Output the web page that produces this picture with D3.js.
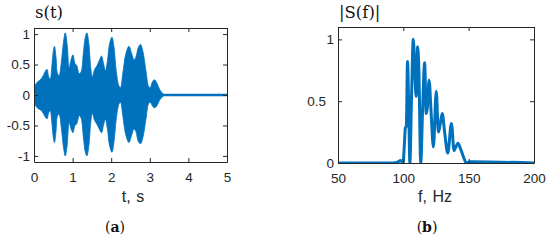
<!DOCTYPE html>
<html>
<head>
<meta charset="utf-8">
<script src="https://cdn.jsdelivr.net/npm/d3@7"></script>
<style>
  body { margin: 0; background: #fff; }
  .axis text { font-family: "Liberation Sans", Arial, sans-serif; font-size: 13.5px; fill: #262626; }
  .axis path, .axis line { stroke: #262626; }
  .lbl { font-family: "Liberation Sans", Arial, sans-serif; font-size: 16px; fill: #262626; word-spacing: 1px; }
  .serif { font-family: "DejaVu Serif", "Liberation Serif", serif; fill: #111; }
</style>
</head>
<body>
<div id="chart"></div>
<script>
const WIDTH  = 550;
const HEIGHT = 240;
const BLUE   = '#0072BD';

// (a) signal envelope
const sigTime  = [0.00, 0.03, 0.10, 0.18, 0.24, 0.30, 0.34, 0.38, 0.42, 0.46, 0.50, 0.53, 0.57, 0.61, 0.65, 0.71, 0.76, 0.81, 0.86, 0.91, 0.96, 1.01, 1.06, 1.11, 1.17, 1.22, 1.28, 1.33, 1.37, 1.42, 1.47, 1.51, 1.57, 1.63, 1.70, 1.75, 1.80, 1.85, 1.90, 1.96, 2.02, 2.07, 2.13, 2.20, 2.24, 2.30, 2.38, 2.46, 2.53, 2.59, 2.64, 2.70, 2.76, 2.82, 2.90, 2.97, 3.01, 3.07, 3.12, 3.18, 3.25, 3.31, 3.35];
const sigUpper = [0.08, 0.16, 0.22, 0.26, 0.32, 0.40, 0.42, 0.30, 0.26, 0.45, 0.72, 0.80, 0.62, 0.35, 0.32, 0.55, 0.85, 1.02, 0.82, 0.45, 0.58, 0.66, 0.52, 0.48, 0.35, 0.38, 0.70, 0.95, 1.02, 0.85, 0.45, 0.30, 0.42, 0.48, 0.58, 0.64, 0.52, 0.40, 0.55, 0.85, 0.95, 0.80, 0.40, 0.15, 0.12, 0.35, 0.68, 0.80, 0.68, 0.58, 0.62, 0.78, 0.83, 0.72, 0.40, 0.14, 0.12, 0.22, 0.25, 0.20, 0.10, 0.04, 0.02];
const sigLower = [-0.08, -0.16, -0.22, -0.25, -0.30, -0.37, -0.39, -0.29, -0.26, -0.44, -0.70, -0.78, -0.60, -0.34, -0.32, -0.55, -0.84, -1.00, -0.82, -0.45, -0.56, -0.62, -0.50, -0.47, -0.34, -0.38, -0.70, -0.94, -1.00, -0.84, -0.45, -0.30, -0.42, -0.48, -0.57, -0.62, -0.50, -0.40, -0.55, -0.84, -0.94, -0.78, -0.40, -0.15, -0.12, -0.34, -0.66, -0.78, -0.66, -0.56, -0.60, -0.76, -0.80, -0.70, -0.40, -0.14, -0.12, -0.18, -0.21, -0.18, -0.09, -0.04, -0.02];
const sigTail  = [3.35, 5];

// (b) spectrum magnitude
const specFreq = [50, 90, 95, 98, 99.8, 100.8, 101.5, 102.3, 103.2, 104.2, 105.0, 106.3, 107.6, 108.9, 109.8, 110.9, 111.9, 113.3, 114.8, 116.3, 117.5, 118.4, 119.7, 121.3, 123.0, 125.2, 126.8, 128.0, 129.8, 131.6, 134.0, 136.8, 138.8, 139.8, 141.8, 143.6, 146.0, 148.3, 151, 200];
const specMag  = [0, 0, 0.005, 0.02, 0.0, 0.15, 0.28, 0.30, 0.82, 0.40, 0.0, 0.55, 1.00, 0.70, 0.54, 0.94, 0.75, 0.0, 0.45, 0.81, 0.40, 0.45, 0.67, 0.40, 0.13, 0.58, 0.25, 0.30, 0.40, 0.25, 0.08, 0.32, 0.10, 0.12, 0.16, 0.12, 0.05, 0.0, 0.01, 0];

const svg = d3.select('#chart').append('svg')
  .attr('width', WIDTH)
  .attr('height', HEIGHT);

// draws a MATLAB style box with inward ticks on all sides
function boxAxes(g, x, y, xTicks, yTicks, id) {
  const [x0, x1] = x.range();
  const [y0, y1] = y.range();
  g.append('clipPath').attr('id', id)
    .append('rect').attr('x', x0).attr('y', y1).attr('width', x1 - x0).attr('height', y0 - y1);

  g.append('g').attr('class', 'axis')
    .attr('transform', 'translate(0,' + y0 + ')')
    .call(d3.axisBottom(x).tickValues(xTicks).tickSizeInner(-4).tickSizeOuter(0).tickPadding(10).tickFormat(d3.format('')));
  g.append('g').attr('class', 'axis')
    .attr('transform', 'translate(0,' + y1 + ')')
    .call(d3.axisTop(x).tickValues(xTicks).tickSizeInner(-4).tickSizeOuter(0).tickFormat(''));
  g.append('g').attr('class', 'axis yleft')
    .attr('transform', 'translate(' + x0 + ',0)')
    .call(d3.axisLeft(y).tickValues(yTicks).tickSizeInner(-4).tickSizeOuter(0).tickPadding(4).tickFormat(d3.format('')));
  g.append('g').attr('class', 'axis')
    .attr('transform', 'translate(' + x1 + ',0)')
    .call(d3.axisRight(y).tickValues(yTicks).tickSizeInner(-4).tickSizeOuter(0).tickFormat(''));
  g.selectAll('.axis text').text(function () { return this.textContent.replace('−', '-'); });
}

// ---- (a) s(t)
const xa = d3.scaleLinear().domain([0, 5]).range([34, 227]);
const ya = d3.scaleLinear().domain([-1.1, 1.1]).range([162, 28]);
const ga = svg.append('g');

const envelope = sigTime.map((t, i) => ({ t: t, hi: sigUpper[i], lo: sigLower[i] }));
ga.append('path')
  .datum(envelope)
  .attr('clip-path', 'url(#clipA)')
  .attr('fill', BLUE)
  .attr('stroke', BLUE)
  .attr('stroke-width', 0.8)
  .attr('d', d3.area()
    .x(d => xa(d.t))
    .y0(d => ya(d.lo))
    .y1(d => ya(d.hi))
    .curve(d3.curveCatmullRom.alpha(0.5)));
ga.append('path')
  .datum(sigTail)
  .attr('fill', 'none')
  .attr('stroke', BLUE)
  .attr('stroke-width', 2.5)
  .attr('d', d3.line().x(d => xa(d)).y(() => ya(0)));

boxAxes(ga, xa, ya, [0, 1, 2, 3, 4, 5], [-1, -0.5, 0, 0.5, 1], 'clipA');

ga.append('text').attr('class', 'serif')
  .attr('x', 35).attr('y', 18)
  .style('font-size', '16.5px')
  .text('s(t)');
ga.append('text').attr('class', 'lbl')
  .attr('x', 133).attr('y', 202)
  .attr('text-anchor', 'middle')
  .text('t, s');
const capA = ga.append('text').attr('class', 'serif')
  .attr('x', 115).attr('y', 232)
  .attr('text-anchor', 'middle')
  .style('font-size', '14px');
capA.append('tspan').text('(');
capA.append('tspan').style('font-weight', 'bold').text('a');
capA.append('tspan').text(')');

// ---- (b) |S(f)|
const xb = d3.scaleLinear().domain([50, 200]).range([338, 534]);
const yb = d3.scaleLinear().domain([0, 1.1]).range([163, 27]);
const gb = svg.append('g');

gb.append('path')
  .datum(specFreq.map((f, i) => [f, specMag[i]]))
  .attr('clip-path', 'url(#clipB)')
  .attr('fill', 'none')
  .attr('stroke', BLUE)
  .attr('stroke-width', 3)
  .attr('stroke-linejoin', 'round')
  .attr('d', d3.line().x(d => xb(d[0])).y(d => yb(d[1])).curve(d3.curveMonotoneX));

boxAxes(gb, xb, yb, [50, 100, 150, 200], [0, 0.5, 1], 'clipB');
// the 0.5 label sits further left in the original
gb.selectAll('.yleft .tick text').filter(d => d === 0.5).attr('dx', -8);

gb.append('text').attr('class', 'serif')
  .attr('x', 339).attr('y', 18)
  .style('font-size', '16.5px')
  .text('|S(f)|');
gb.append('text').attr('class', 'lbl')
  .attr('x', 435).attr('y', 202)
  .attr('text-anchor', 'middle')
  .text('f, Hz');
const capB = gb.append('text').attr('class', 'serif')
  .attr('x', 427).attr('y', 232)
  .attr('text-anchor', 'middle')
  .style('font-size', '14px');
capB.append('tspan').text('(');
capB.append('tspan').style('font-weight', 'bold').text('b');
capB.append('tspan').text(')');
</script>
</body>
</html>
